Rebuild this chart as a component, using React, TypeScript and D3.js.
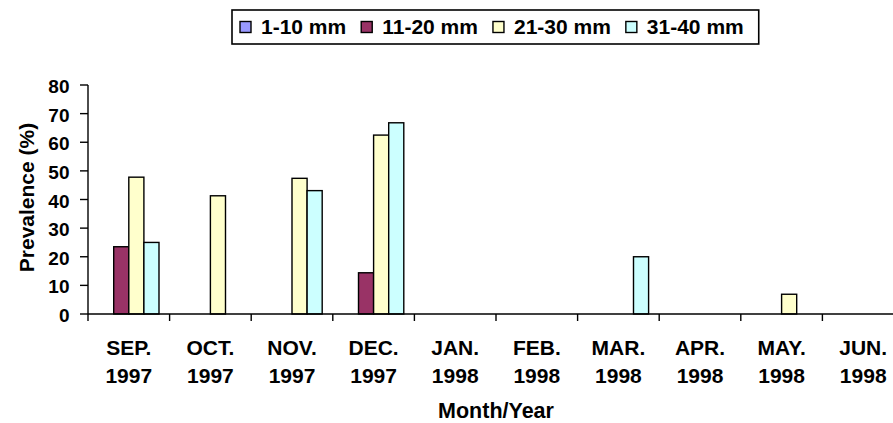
import { useEffect, useRef } from 'react';
import * as d3 from 'd3';

const months = ['SEP.', 'OCT.', 'NOV.', 'DEC.', 'JAN.', 'FEB.', 'MAR.', 'APR.', 'MAY.', 'JUN.'];
const years = ['1997', '1997', '1997', '1997', '1998', '1998', '1998', '1998', '1998', '1998'];
const seriesNames = ['1-10 mm', '11-20 mm', '21-30 mm', '31-40 mm'];
const seriesColors = ['#9999ff', '#993366', '#ffffcc', '#ccffff'];
const size1to10 = [0, 0, 0, 0, 0, 0, 0, 0, 0, 0];
const size11to20 = [23.5, 0, 0, 14.4, 0, 0, 0, 0, 0, 0];
const size21to30 = [47.8, 41.3, 47.4, 62.5, 0, 0, 0, 0, 6.9, 0];
const size31to40 = [25.0, 0, 43.1, 66.8, 0, 0, 20.0, 0, 0, 0];
const yTicks = [0, 10, 20, 30, 40, 50, 60, 70, 80];

const FONT = '"Liberation Sans", Arial, sans-serif';

export default function App() {
  const ref = useRef<SVGSVGElement>(null);

  useEffect(() => {
    if (!ref.current) return;
    const svg = d3.select(ref.current);
    svg.selectAll('*').remove();

    const series = [size1to10, size11to20, size21to30, size31to40];
    const left = 88;
    const top = 85;
    const bottom = 314;
    const catW = 81.6;
    const right = left + catW * months.length;

    const x = d3.scaleBand<number>().domain(d3.range(months.length)).range([left, right]).padding(0);
    const gap = catW * 0.13;
    const xi = d3.scaleBand<number>().domain(d3.range(series.length)).range([gap, catW - gap]).padding(0);
    const y = d3.scaleLinear().domain([0, 80]).range([bottom, top]);

    // bars
    series.forEach((vals, s) => {
      svg
        .append('g')
        .selectAll('rect')
        .data(vals.map((v, i) => ({ v, i })).filter((d) => d.v > 0))
        .join('rect')
        .attr('x', (d) => (x(d.i) ?? 0) + (xi(s) ?? 0))
        .attr('y', (d) => y(d.v))
        .attr('width', xi.bandwidth())
        .attr('height', (d) => y(0) - y(d.v))
        .attr('fill', seriesColors[s])
        .attr('stroke', '#000')
        .attr('stroke-width', 1.4);
    });

    // y axis
    const ya = svg.append('g').attr('transform', `translate(${left},0)`);
    ya.append('line').attr('y1', top).attr('y2', bottom).attr('stroke', '#000').attr('stroke-width', 1.4);
    ya.selectAll('line.t')
      .data(yTicks)
      .join('line')
      .attr('class', 't')
      .attr('x1', -8)
      .attr('x2', 0)
      .attr('y1', (d) => y(d))
      .attr('y2', (d) => y(d))
      .attr('stroke', '#000')
      .attr('stroke-width', 1.4);
    ya.selectAll('text')
      .data(yTicks)
      .join('text')
      .attr('x', -18.5)
      .attr('y', (d) => y(d) + 8)
      .attr('text-anchor', 'end')
      .attr('font-family', FONT)
      .attr('font-weight', 'bold')
      .attr('font-size', 19)
      .text((d) => d);

    // x axis
    const xa = svg.append('g');
    xa.append('line').attr('x1', left).attr('x2', right).attr('y1', bottom).attr('y2', bottom).attr('stroke', '#000').attr('stroke-width', 1.4);
    xa.selectAll('line.t')
      .data(d3.range(months.length + 1))
      .join('line')
      .attr('class', 't')
      .attr('x1', (d) => left + d * x.bandwidth())
      .attr('x2', (d) => left + d * x.bandwidth())
      .attr('y1', bottom)
      .attr('y2', bottom + 7)
      .attr('stroke', '#000')
      .attr('stroke-width', 1.4);
    const lbl = xa
      .selectAll('text')
      .data(d3.range(months.length))
      .join('text')
      .attr('text-anchor', 'middle')
      .attr('font-family', FONT)
      .attr('font-weight', 'bold')
      .attr('font-size', 21)
      .attr('transform', (d) => `translate(${(x(d) ?? 0) + x.bandwidth() / 2},0)`);
    lbl.append('tspan').attr('x', 0).attr('y', 354.5).text((d) => months[d]);
    lbl.append('tspan').attr('x', 0).attr('y', 382.5).text((d) => years[d]);

    // axis titles
    svg
      .append('text')
      .attr('x', (left + right) / 2)
      .attr('y', 417.5)
      .attr('text-anchor', 'middle')
      .attr('font-family', FONT)
      .attr('font-weight', 'bold')
      .attr('font-size', 21.5)
      .text('Month/Year');
    svg
      .append('text')
      .attr('transform', `translate(34,197.5) rotate(-90)`)
      .attr('text-anchor', 'middle')
      .attr('font-family', FONT)
      .attr('font-weight', 'bold')
      .attr('font-size', 21)
      .text('Prevalence (%)');

    // legend
    const lg = svg.append('g');
    const box = lg.append('rect').attr('y', 10).attr('height', 34).attr('fill', '#fff').attr('stroke', '#000').attr('stroke-width', 1.6);
    let cx = 240;
    seriesNames.forEach((name, s) => {
      lg.append('rect')
        .attr('x', cx)
        .attr('y', 21.5)
        .attr('width', 11)
        .attr('height', 11)
        .attr('fill', seriesColors[s])
        .attr('stroke', '#000')
        .attr('stroke-width', 1.4);
      const t = lg
        .append('text')
        .attr('x', cx + 21)
        .attr('y', 34)
        .attr('font-family', FONT)
        .attr('font-weight', 'bold')
        .attr('font-size', 21)
        .text(name);
      const w = (t.node() as SVGTextElement).getComputedTextLength();
      cx += 21 + w + 15;
    });
    box.attr('x', 232).attr('width', cx - 232);
  }, []);

  return (
    <svg
      ref={ref}
      width={893}
      height={423}
      style={{ position: 'absolute', left: 0, top: 0, background: '#fff' }}
    />
  );
}
